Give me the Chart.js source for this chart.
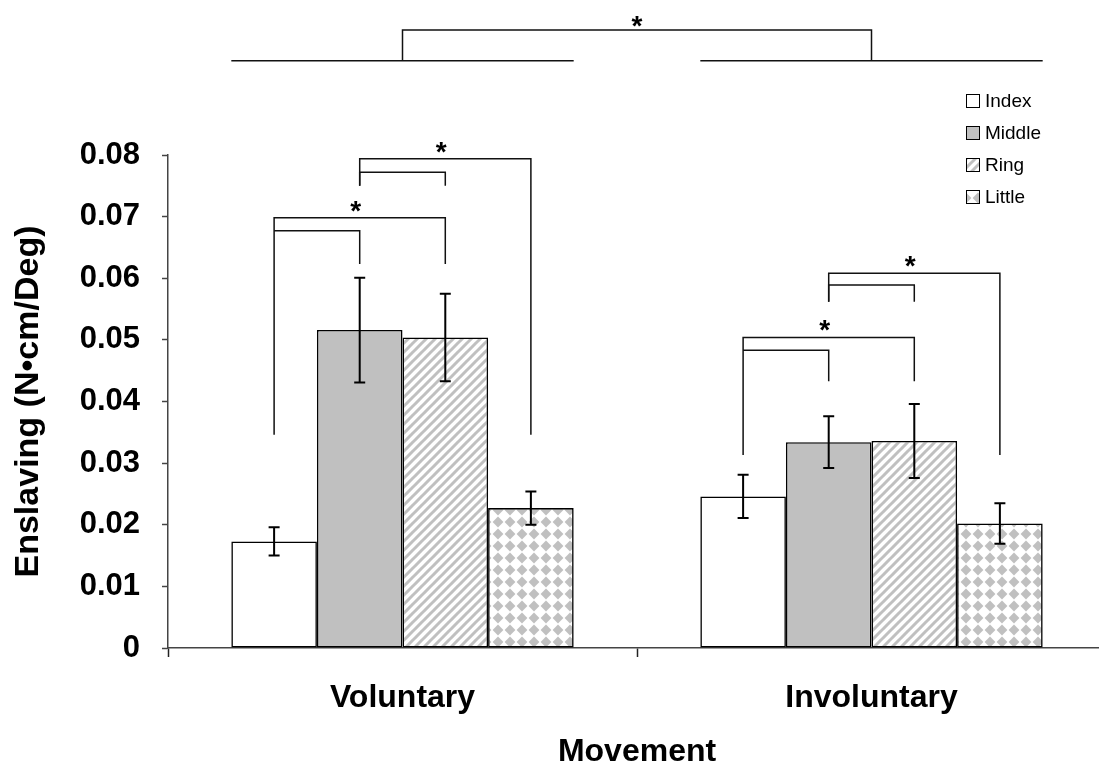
<!DOCTYPE html>
<html>
<head>
<meta charset="utf-8">
<script src="https://cdn.jsdelivr.net/npm/chart.js@4.4.0/dist/chart.umd.min.js"></script>
<style>
    html, body { margin: 0; padding: 0; background: #fff; overflow: hidden; }
    #wrap { width: 1099px; height: 771px; overflow: hidden; }
</style>
</head>
<body>
<div id="wrap"><canvas id="enslaving_canvas" width="1120" height="771"></canvas></div>
<script>
const movements = ['Voluntary', 'Involuntary']
const fingers = ['Index', 'Middle', 'Ring', 'Little']

// mean enslaving per finger, [voluntary, involuntary]
const indexMean = [0.0173, 0.0246]
const middleMean = [0.0516, 0.0334]
const ringMean = [0.0504, 0.0336]
const littleMean = [0.0227, 0.0202]

// error bar half length
const indexErr = [0.0023, 0.0035]
const middleErr = [0.0085, 0.0042]
const ringErr = [0.0071, 0.0060]
const littleErr = [0.0027, 0.0033]

const yTicks = ['0', '0.01', '0.02', '0.03', '0.04', '0.05', '0.06', '0.07', '0.08']

// significance brackets: category, bars from/to, bar level, leg ends
const brackets = [
    { cat: 0, from: 1, to: 3, y: 0.0794, yFrom: 0.0750, yTo: 0.0346, star: 2 },
    { cat: 0, from: 1, to: 2, y: 0.0772, yFrom: 0.0750, yTo: 0.0750 },
    { cat: 0, from: 0, to: 2, y: 0.0698, yFrom: 0.0346, yTo: 0.0623, star: 1 },
    { cat: 0, from: 0, to: 1, y: 0.0677, yFrom: 0.0677, yTo: 0.0623 },
    { cat: 1, from: 1, to: 3, y: 0.0608, yFrom: 0.0562, yTo: 0.0313, star: 2 },
    { cat: 1, from: 1, to: 2, y: 0.0589, yFrom: 0.0562, yTo: 0.0562 },
    { cat: 1, from: 0, to: 2, y: 0.0504, yFrom: 0.0313, yTo: 0.0433, star: 1 },
    { cat: 1, from: 0, to: 1, y: 0.0483, yFrom: 0.0483, yTo: 0.0433 }
]
// Voluntary vs Involuntary bracket
const groupBracket = { y: 0.1003, base: 0.0953 }

const FONT = '"Liberation Sans", Arial, sans-serif'
const canvas = document.getElementById('enslaving_canvas')
const mainCtx = canvas.getContext('2d')

function stripePattern() {
    let c = document.createElement('canvas')
    c.width = 9
    c.height = 9
    let g = c.getContext('2d')
    g.fillStyle = '#fff'
    g.fillRect(0, 0, 9, 9)
    g.strokeStyle = '#c0c0c0'
    g.lineWidth = 3
    g.beginPath()
    for (let k = -1; k <= 1; k++) {
        g.moveTo(k * 9 - 1, 10)
        g.lineTo(k * 9 + 10, -1)
    }
    g.stroke()
    return mainCtx.createPattern(c, 'repeat')
}

function diamondPattern() {
    let c = document.createElement('canvas')
    c.width = 12
    c.height = 12
    let g = c.getContext('2d')
    g.fillStyle = '#fff'
    g.fillRect(0, 0, 12, 12)
    g.fillStyle = '#c0c0c0'
    g.beginPath()
    g.moveTo(6, 0.6)
    g.lineTo(11.4, 6)
    g.lineTo(6, 11.4)
    g.lineTo(0.6, 6)
    g.closePath()
    g.fill()
    return mainCtx.createPattern(c, 'repeat')
}

const errors = [indexErr, middleErr, ringErr, littleErr]

const errorBars = {
    id: 'errorBars',
    afterDatasetsDraw(chart) {
        const ctx = chart.ctx
        const y = chart.scales.y
        ctx.save()
        ctx.strokeStyle = '#000'
        ctx.lineWidth = 2
        chart.data.datasets.forEach((ds, i) => {
            chart.getDatasetMeta(i).data.forEach((bar, j) => {
                let top = y.getPixelForValue(ds.data[j] + errors[i][j])
                let bot = y.getPixelForValue(ds.data[j] - errors[i][j])
                ctx.beginPath()
                ctx.moveTo(bar.x, top)
                ctx.lineTo(bar.x, bot)
                ctx.moveTo(bar.x - 5.5, top)
                ctx.lineTo(bar.x + 5.5, top)
                ctx.moveTo(bar.x - 5.5, bot)
                ctx.lineTo(bar.x + 5.5, bot)
                ctx.stroke()
            })
        })
        ctx.restore()
    }
}

function star(ctx, x, y) {
    ctx.font = 'bold 28px ' + FONT
    ctx.textAlign = 'center'
    ctx.textBaseline = 'alphabetic'
    ctx.fillText('*', x, y + 16)
}

const sigBrackets = {
    id: 'sigBrackets',
    afterDatasetsDraw(chart) {
        const ctx = chart.ctx
        const y = chart.scales.y
        const xs = (b, k) => chart.getDatasetMeta(k).data[b.cat].x
        ctx.save()
        ctx.strokeStyle = '#111'
        ctx.fillStyle = '#000'
        ctx.lineWidth = 1.5
        brackets.forEach(b => {
            let x1 = xs(b, b.from)
            let x2 = xs(b, b.to)
            let yy = y.getPixelForValue(b.y)
            ctx.beginPath()
            ctx.moveTo(x1, y.getPixelForValue(b.yFrom))
            ctx.lineTo(x1, yy)
            ctx.lineTo(x2, yy)
            ctx.lineTo(x2, y.getPixelForValue(b.yTo))
            ctx.stroke()
            if (b.star !== undefined) {
                star(ctx, xs(b, b.star) - 4, yy - 14)
            }
        })

        // group bracket on top
        let n = chart.data.datasets.length
        let base = y.getPixelForValue(groupBracket.base)
        let top = y.getPixelForValue(groupBracket.y)
        let centers = []
        movements.forEach((m, c) => {
            let first = chart.getDatasetMeta(0).data[c]
            let last = chart.getDatasetMeta(n - 1).data[c]
            ctx.beginPath()
            ctx.moveTo(first.x - first.width / 2, base)
            ctx.lineTo(last.x + last.width / 2, base)
            ctx.stroke()
            centers.push(chart.scales.x.getPixelForValue(c))
        })
        ctx.beginPath()
        ctx.moveTo(centers[0], base)
        ctx.lineTo(centers[0], top)
        ctx.lineTo(centers[1], top)
        ctx.lineTo(centers[1], base)
        ctx.stroke()
        star(ctx, (centers[0] + centers[1]) / 2, top - 11)
        ctx.restore()
    }
}

const boxLegend = {
    id: 'boxLegend',
    afterDraw(chart) {
        const ctx = chart.ctx
        ctx.save()
        ctx.font = '19px ' + FONT
        ctx.textAlign = 'left'
        ctx.textBaseline = 'middle'
        chart.data.datasets.forEach((ds, i) => {
            let cy = 101 + i * 32
            ctx.fillStyle = ds.backgroundColor
            ctx.fillRect(966, cy - 7, 14, 14)
            ctx.strokeStyle = '#000'
            ctx.lineWidth = 1
            ctx.strokeRect(966.5, cy - 6.5, 13, 13)
            ctx.fillStyle = '#000'
            ctx.fillText(ds.label, 985, cy + 1)
        })
        ctx.restore()
    }
}

function chartEnslaving() {
    const means = [indexMean, middleMean, ringMean, littleMean]
    const fills = ['#ffffff', '#c0c0c0', stripePattern(), diamondPattern()]
    const setup = {
        labels: movements,
        datasets: fingers.map((f, i) => ({
            label: f,
            data: means[i],
            backgroundColor: fills[i],
            borderColor: '#000',
            borderWidth: 1.6,
            borderSkipped: false,
            categoryPercentage: 0.73,
            barPercentage: 1.0
        }))
    }
    const chart = new Chart(canvas, {
        type: 'bar',
        data: setup,
        options: {
            responsive: false,
            animation: false,
            devicePixelRatio: 1,
            layout: {
                padding: { left: 0, top: 155, right: 14, bottom: 0 }
            },
            plugins: {
                legend: { display: false },
                tooltip: { enabled: false }
            },
            scales: {
                x: {
                    afterFit: s => { s.height = 123 },
                    grid: {
                        drawOnChartArea: false,
                        tickLength: 9,
                        tickColor: '#222',
                        tickWidth: 1.5
                    },
                    border: { color: '#444', width: 1.5 },
                    ticks: {
                        padding: 22,
                        color: '#000',
                        font: { family: FONT, size: 32, weight: 'bold', lineHeight: 1.2 }
                    },
                    title: {
                        display: true,
                        text: 'Movement',
                        color: '#000',
                        padding: { top: 0, bottom: 0 },
                        font: { family: FONT, size: 32, weight: 'bold', lineHeight: 1.2 }
                    }
                },
                y: {
                    min: 0,
                    max: 0.08,
                    afterFit: s => { s.width = 168 },
                    grid: {
                        drawOnChartArea: false,
                        tickLength: 6,
                        tickColor: '#444',
                        tickWidth: 1.5
                    },
                    border: { color: '#444', width: 1.5 },
                    ticks: {
                        stepSize: 0.01,
                        padding: 22,
                        color: '#000',
                        font: { family: FONT, size: 31, weight: 'bold' },
                        callback: (v, i) => yTicks[i]
                    },
                    title: {
                        display: true,
                        text: 'Enslaving (N•cm/Deg)',
                        color: '#000',
                        padding: { top: 8, bottom: 0 },
                        font: { family: FONT, size: 34, weight: 'bold', lineHeight: 1.2 }
                    }
                }
            }
        },
        plugins: [errorBars, sigBrackets, boxLegend]
    })
}

chartEnslaving()
</script>
</body>
</html>
